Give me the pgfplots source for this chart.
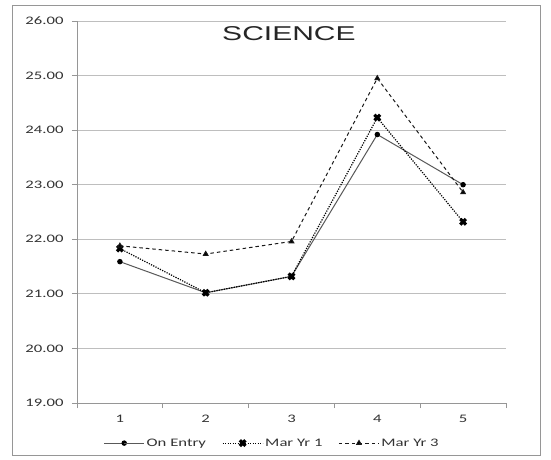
\documentclass[border=0pt]{standalone}
\usepackage{fontspec}
\usepackage{pgfplots}
\pgfplotsset{compat=1.18}
\setmainfont[FakeStretch=1.45]{Carlito}
\newfontfamily\titlefont[FakeStretch=1.5]{Liberation Sans}
\definecolor{gridc}{RGB}{190,190,190}
\definecolor{axc}{RGB}{150,150,150}
\begin{document}
\begin{tikzpicture}[x=1pt,y=1pt]
\path[fill=white] (0,0) rectangle (551,460);
\draw[axc, line width=0.8pt] (12,5) rectangle (540,455);
\begin{axis}[
  at={(77pt,57pt)}, anchor=south west,
  scale only axis, width=429pt, height=382pt,
  xmin=0.5, xmax=5.5, ymin=19, ymax=26,
  xtick={1,2,3,4,5},
  minor xtick={0.5,1.5,2.5,3.5,4.5,5.5},
  ytick={19,20,21,22,23,24,25,26},
  yticklabel style={/pgf/number format/fixed, /pgf/number format/fixed zerofill, /pgf/number format/precision=2, xshift=-5pt},
  /pgf/number format/assume math mode=true,
  tick label style={font=\fontsize{11.5}{13}\selectfont, color=black!80},
  axis x line*=bottom, axis y line*=left,
  axis line style={axc, line width=0.8pt},
  x axis line style={-}, y axis line style={-},
  ymajorgrids, grid style={gridc, line width=0.8pt},
  major x tick style={draw=none},
  minor x tick style={axc, line width=0.8pt},
  minor tick length=5pt,
  ytick style={axc, line width=0.8pt},
  major tick length=5pt,
  tick align=outside,
  xticklabel style={yshift=-4pt},
  clip=false,
  legend style={at={(0.455,-0.105)}, anchor=center, draw=none, fill=none,
    legend columns=3, font=\fontsize{11.5}{13}\selectfont, color=black!80,
    /tikz/every even column/.append style={column sep=14pt}},
  legend cell align=left,
  legend image code/.code={
    \draw[#1] (0pt,0pt) -- (20pt,0pt);
    \draw[#1] plot coordinates {(20pt,0pt)};
    \draw[#1] (20pt,0pt) -- (40pt,0pt);
  },
]
\node[font=\titlefont\fontsize{20}{24}\selectfont, color=black!85] at (axis cs:2.97,25.76) {SCIENCE};
\addplot[color=black!65, line width=1pt, mark=*, mark size=2.2pt, mark options={solid, fill=black, draw=black}]
  coordinates {(1,21.59) (2,21.02) (3,21.32) (4,23.92) (5,23.00)};
\addlegendentry{On Entry}
\addplot[color=black, line width=1.2pt, dash pattern=on 1.2pt off 1.3pt, mark=x, mark size=4pt, mark options={solid, line width=3.2pt}]
  coordinates {(1,21.83) (2,21.02) (3,21.32) (4,24.23) (5,22.32)};
\addlegendentry{Mar Yr 1}
\addplot[color=black!90, line width=1pt, dash pattern=on 3.5pt off 3pt, mark=triangle*, mark size=2.6pt, mark options={solid, fill=black}]
  coordinates {(1,21.88) (2,21.73) (3,21.96) (4,24.95) (5,22.86)};
\addlegendentry{Mar Yr 3}
\end{axis}
\end{tikzpicture}
\end{document}
